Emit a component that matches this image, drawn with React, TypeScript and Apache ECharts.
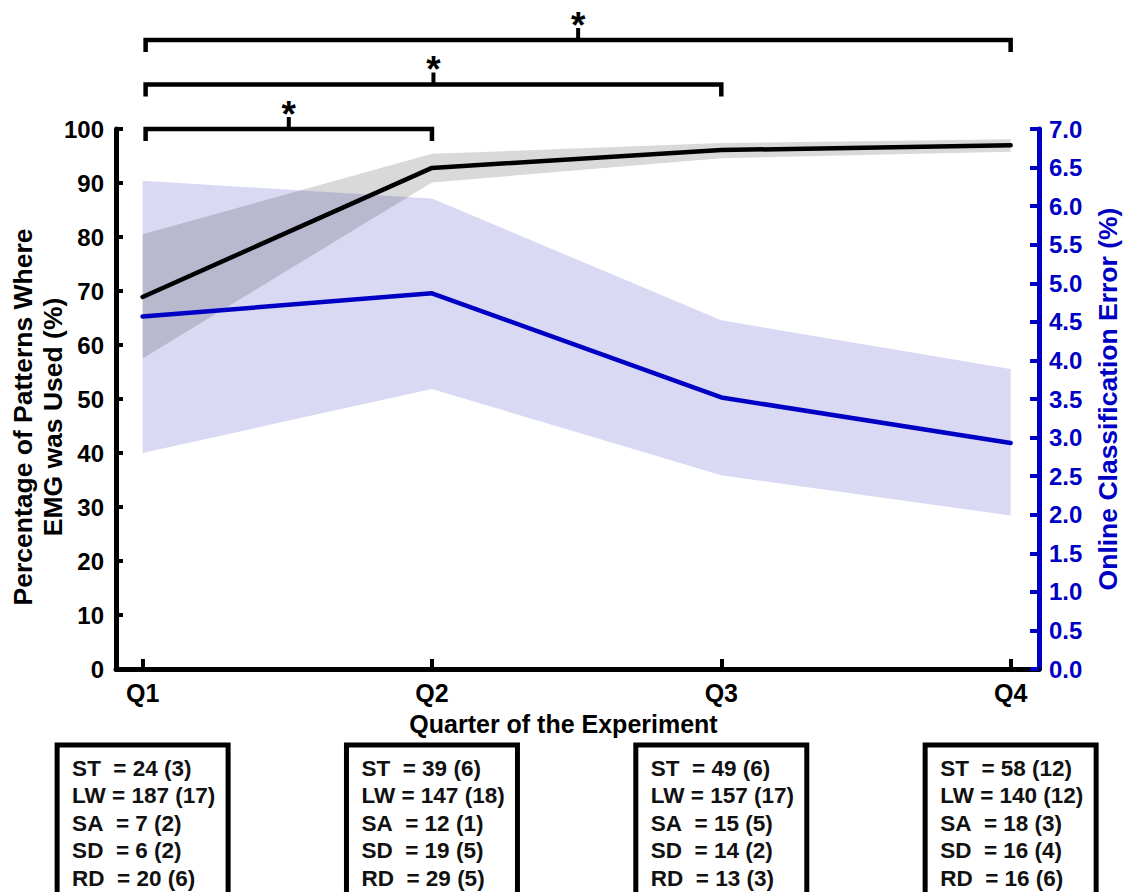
import { useEffect, useRef } from 'react';
import * as echarts from 'echarts';

// Quarters of the experiment
const quarters = ['Q1', 'Q2', 'Q3', 'Q4'];

// Percentage of patterns where EMG was used (mean and shaded spread)
const emgMean = [68.9, 92.8, 96.1, 97.0];
const emgLower = [57.5, 90.1, 94.6, 95.8];
const emgUpper = [80.5, 95.4, 97.4, 98.1];

// Online classification error, % (mean and shaded spread)
const errMean = [4.57, 4.87, 3.52, 2.93];
const errLower = [2.8, 3.63, 2.51, 1.99];
const errUpper = [6.33, 6.1, 4.52, 3.89];

// Significant pairwise comparisons (quarter index pairs)
const sigPairs = [
  [0, 1],
  [0, 2],
  [0, 3],
];

// Pattern counts per quarter: total (and per-subject spread)
const motions = ['ST', 'LW', 'SA', 'SD', 'RD'];
const stCount = [24, 39, 49, 58];
const stSpread = [3, 6, 6, 12];
const lwCount = [187, 147, 157, 140];
const lwSpread = [17, 18, 17, 12];
const saCount = [7, 12, 15, 18];
const saSpread = [2, 1, 5, 3];
const sdCount = [6, 19, 14, 16];
const sdSpread = [2, 5, 2, 4];
const rdCount = [20, 29, 13, 16];
const rdSpread = [6, 5, 3, 6];

const FONT = '"Liberation Sans", Arial, Helvetica, sans-serif';
const BLUE = '#0000c4';

export default function App() {
  const ref = useRef<HTMLDivElement>(null);

  useEffect(() => {
    if (!ref.current) return;
    const chart = echarts.init(ref.current, null, { renderer: 'svg' });

    const counts = [stCount, lwCount, saCount, sdCount, rdCount];
    const spreads = [stSpread, lwSpread, saSpread, sdSpread, rdSpread];
    const boxLines = quarters.map((_, q) =>
      motions.map(
        (m, r) =>
          `${m}${m === 'LW' ? ' ' : '\u00a0\u00a0'}= ${counts[r][q]} (${spreads[r][q]})`
      )
    );

    const xy = (arr: number[]) => arr.map((v, i) => [i, v]);

    // Shaded spread between a lower and an upper curve
    const band = (lo: number[], hi: number[], yAxisIndex: number, color: string) => ({
      type: 'custom',
      yAxisIndex,
      clip: false,
      silent: true,
      encode: { x: 0, y: 1 },
      data: [[0, lo[0]]],
      renderItem: (_params: any, api: any) => {
        const upper = hi.map((v, i) => api.coord([i, v]));
        const lower = lo.map((v, i) => api.coord([i, v])).reverse();
        return {
          type: 'polygon',
          shape: { points: [...upper, ...lower] },
          style: { fill: color },
        };
      },
    });

    chart.setOption({
      animation: false,
      grid: {
        left: 116,
        right: 84,
        top: 129,
        bottom: 223,
        containLabel: false,
        outerBoundsMode: 'none',
      },
      xAxis: {
        type: 'value',
        min: -0.092,
        max: 3.098,
        name: 'Quarter of the Experiment',
        nameLocation: 'middle',
        nameGap: 35,
        nameTextStyle: {
          fontFamily: FONT,
          fontWeight: 'bold',
          fontSize: 25,
          lineHeight: 28,
          color: '#000',
          padding: [0, 28, 0, 0],
        },
        axisLine: { onZero: false, lineStyle: { color: '#000', width: 5 } },
        axisTick: {
          customValues: [0, 1, 2, 3],
          inside: true,
          length: 10,
          lineStyle: { color: '#000', width: 4 },
        },
        axisLabel: {
          customValues: [0, 1, 2, 3],
          formatter: (v: number) => quarters[Math.round(v)] ?? '',
          fontFamily: FONT,
          fontWeight: 'bold',
          fontSize: 25,
          color: '#000',
          margin: 11,
        },
        splitLine: { show: false },
      },
      yAxis: [
        {
          type: 'value',
          min: 0,
          max: 100,
          interval: 10,
          position: 'left',
          name: 'Percentage of Patterns Where\nEMG was Used (%)',
          nameLocation: 'middle',
          nameRotate: 90,
          nameGap: 48,
          nameMoveOverlap: false,
          nameTextStyle: {
            fontFamily: FONT,
            fontWeight: 'bold',
            fontSize: 26.5,
            lineHeight: 30,
            color: '#000',
            padding: [0, 36, 0, 0],
          },
          axisLine: { show: true, onZero: false, lineStyle: { color: '#000', width: 5 } },
          axisTick: { show: true, inside: true, length: 7, lineStyle: { color: '#000', width: 4 } },
          axisLabel: {
            fontFamily: FONT,
            fontWeight: 'bold',
            fontSize: 24,
            color: '#000',
            margin: 12,
          },
          splitLine: { show: false },
        },
        {
          type: 'value',
          min: 0,
          max: 7,
          interval: 0.5,
          position: 'right',
          name: 'Online Classification Error (%)',
          nameLocation: 'middle',
          nameRotate: 90,
          nameGap: 53,
          nameTextStyle: {
            fontFamily: FONT,
            fontWeight: 'bold',
            fontSize: 26.5,
            lineHeight: 30,
            color: BLUE,
          },
          axisLine: { show: true, onZero: false, lineStyle: { color: BLUE, width: 5 } },
          axisTick: { show: true, inside: true, length: 9, lineStyle: { color: BLUE, width: 4 } },
          axisLabel: {
            formatter: (v: number) => v.toFixed(1),
            fontFamily: FONT,
            fontWeight: 'bold',
            fontSize: 24,
            color: BLUE,
            margin: 10,
          },
          splitLine: { show: false },
        },
      ],
      series: [
        band(errLower, errUpper, 1, 'rgba(0, 0, 180, 0.15)'),
        band(emgLower, emgUpper, 0, 'rgba(0, 0, 0, 0.15)'),
        {
          type: 'line',
          name: 'Online Classification Error',
          yAxisIndex: 1,
          symbol: 'none',
          data: xy(errMean),
          lineStyle: { color: BLUE, width: 4.5, cap: 'round', join: 'round' },
        },
        {
          type: 'line',
          name: 'EMG Used',
          yAxisIndex: 0,
          symbol: 'none',
          data: xy(emgMean),
          lineStyle: { color: '#000', width: 4.5, cap: 'round', join: 'round' },
        },
        {
          type: 'custom',
          name: 'significance',
          yAxisIndex: 0,
          clip: false,
          silent: true,
          encode: { x: 0, y: 2 },
          data: sigPairs.map(([a, b], k) => [a, b, k]),
          renderItem: (_params: any, api: any) => {
            const a = api.value(0);
            const b = api.value(1);
            const k = api.value(2);
            const y = api.coord([0, 100])[1] - k * 44.5;
            const x1 = api.coord([a, 0])[0] + 3;
            const x2 = api.coord([b, 0])[0];
            const xm = (x1 + x2) / 2;
            return {
              type: 'group',
              children: [
                {
                  type: 'polyline',
                  shape: { points: [[x1, y + 12], [x1, y], [x2, y], [x2, y + 12]] },
                  style: { stroke: '#000', lineWidth: 4.5, fill: null },
                },
                {
                  type: 'line',
                  shape: { x1: xm, y1: y, x2: xm, y2: y - 12 },
                  style: { stroke: '#000', lineWidth: 4 },
                },
                {
                  type: 'text',
                  x: xm,
                  y: y - 15,
                  style: {
                    text: '*',
                    fontFamily: FONT,
                    fontWeight: 'bold',
                    fontSize: 37,
                    textAlign: 'center',
                    textVerticalAlign: 'middle',
                    fill: '#000',
                  },
                },
              ],
            };
          },
        },
        {
          type: 'custom',
          name: 'pattern counts',
          yAxisIndex: 0,
          clip: false,
          silent: true,
          encode: { x: 0, y: 1 },
          data: quarters.map((_, i) => [i, 0]),
          renderItem: (params: any, api: any) => {
            const q = api.value(0);
            const [cx, y0] = api.coord([q, 0]);
            const w = 171;
            const top = y0 + 76;
            const left = cx - w / 2;
            const lines = boxLines[params.dataIndex];
            return {
              type: 'group',
              children: [
                {
                  type: 'rect',
                  shape: { x: left, y: top, width: w, height: 200 },
                  style: { fill: '#fff', stroke: '#000', lineWidth: 5 },
                },
                ...lines.map((t: string, r: number) => ({
                  type: 'text',
                  x: left + 15,
                  y: top + 23 + r * 27.5,
                  style: {
                    text: t,
                    fontFamily: FONT,
                    fontWeight: 'bold',
                    fontSize: 22.5,
                    textAlign: 'left',
                    textVerticalAlign: 'middle',
                    fill: '#111',
                  },
                })),
              ],
            };
          },
        },
      ],
    });

    return () => chart.dispose();
  }, []);

  return (
    <div
      ref={ref}
      style={{ position: 'fixed', left: 0, top: 0, width: 1123, height: 892, background: '#fff' }}
    />
  );
}
